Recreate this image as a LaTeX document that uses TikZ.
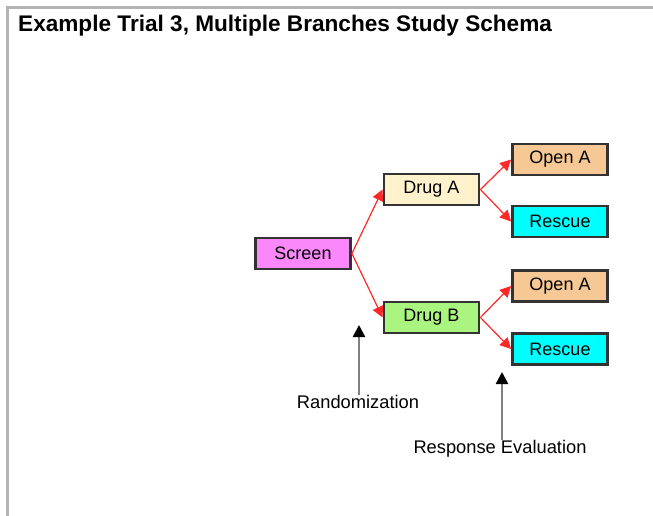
\documentclass[tikz,border=0pt]{standalone}
\usepackage{fontspec}
\setmainfont{Liberation Sans}
\usetikzlibrary{arrows.meta}
\definecolor{screencol}{RGB}{250,136,250}
\definecolor{drugacol}{RGB}{255,242,204}
\definecolor{drugbcol}{RGB}{170,245,128}
\definecolor{opencol}{RGB}{246,200,150}
\definecolor{rescuecol}{RGB}{0,255,255}
\definecolor{boxline}{RGB}{51,51,51}
\definecolor{redline}{RGB}{255,40,40}
\definecolor{frameline}{RGB}{180,180,180}
\definecolor{pointerline}{RGB}{128,128,128}
\tikzset{
  stagebox/.style={draw=boxline, line width=2.8pt, minimum width=95pt, minimum height=31pt, inner sep=0pt,
    font=\fontsize{18}{20}\selectfont},
  flow/.style={draw=redline, line width=1.2pt, -{Triangle[length=11pt,width=11pt]}},
  pointer/.style={draw=pointerline, line width=2.5pt, -{Triangle[length=12pt,width=12pt,fill=black,color=black]}},
  caption/.style={inner sep=0pt, font=\fontsize{18.3}{20}\selectfont}
}
\begin{document}
\begin{tikzpicture}[x=1pt,y=-1pt]
\useasboundingbox (0,0) rectangle (653,516);
\draw[frameline, line width=3pt] (7.5,516) -- (7.5,7.5) -- (653,7.5);
\node[anchor=west, inner sep=0pt, font=\fontsize{22.6}{25}\selectfont\bfseries] (title) at (18,26) {Example Trial 3, Multiple Branches Study Schema};

\node[stagebox, fill=screencol] (s) at (303,253.5) {Screen};
\node[stagebox, fill=drugacol] (da) at (431.5,189.5) {Drug A};
\node[stagebox, fill=drugbcol] (db) at (431.5,317.5) {Drug B};
\node[stagebox, fill=opencol] (oa) at (560,159.5) {Open A};
\node[stagebox, fill=rescuecol] (ra) at (560,221.5) {Rescue};
\node[stagebox, fill=opencol] (ob) at (560,286) {Open A};
\node[stagebox, fill=rescuecol] (rb) at (560,349) {Rescue};

\draw[flow] (s.east) -- (da.west);
\draw[flow] (s.east) -- (db.west);
\draw[flow] (da.east) -- (oa.west);
\draw[flow] (da.east) -- (ra.west);
\draw[flow] (db.east) -- (ob.west);
\draw[flow] (db.east) -- (rb.west);

\node[caption] (rnd) at (358,402) {Randomization};
\node[caption] (rev) at (500,449) {Response Evaluation};
\coordinate (rtip) at (359,325);
\coordinate (etip) at (502,372);
\draw[pointer] (rnd.north -| rtip) -- (rtip);
\draw[pointer] (rev.north -| etip) -- (etip);
\end{tikzpicture}
\end{document}
